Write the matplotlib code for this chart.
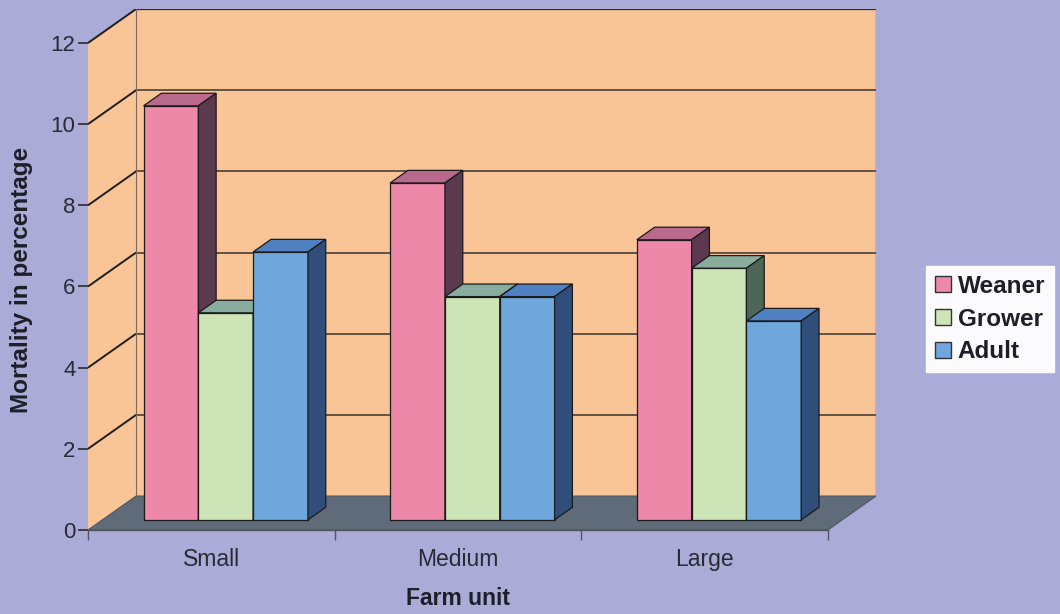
import matplotlib
matplotlib.use("Agg")
import matplotlib.pyplot as plt
from matplotlib.patches import Polygon, Patch

# Mortality (%) by farm unit and pig class
categories = ["Small", "Medium", "Large"]
series_names = ["Weaner", "Grower", "Adult"]
weaner = [10.2, 8.3, 6.9]
grower = [5.1, 5.5, 6.2]
adult = [6.6, 5.5, 4.9]
y_ticks = [0, 2, 4, 6, 8, 10, 12]

front_colors = ["#EE88A9", "#CCE4B6", "#6FA7DD"]
top_colors = ["#B96A8C", "#88AC9E", "#4F80C2"]
side_colors = ["#5B3A50", "#4D6657", "#2F4E7A"]

bg = "#ABABD8"
wall = "#F9C596"
floor_col = "#5F6B78"
grid_col = "#3A322C"

plt.rcParams["font.family"] = ["Liberation Sans", "DejaVu Sans"]

fig = plt.figure(figsize=(10.6, 6.14), dpi=100, facecolor=bg)
ax = fig.add_axes([88 / 1060, 84 / 614, 788 / 1060, 521 / 614])
ax.set_facecolor("none")

n_cat = len(categories)
ymax = max(y_ticks)
DX, DY = 0.195, 0.837          # full depth of the floor / walls (data units)
BF, BD = 0.30, 0.37            # bar front offset and bar depth (fraction of full depth)
bx0, by0 = BF * DX, BF * DY
bdx, bdy = BD * DX, BD * DY
n_ser = len(series_names)
w = 1.0 / (n_ser + 1.5)        # bar width with 150% gap
gap = 0.75 * w

ax.set_xlim(0, n_cat + DX)
ax.set_ylim(0, ymax + DY)

# side wall, back wall and floor
ax.add_patch(Polygon([(0, 0), (DX, DY), (DX, ymax + DY), (0, ymax)],
                     closed=True, facecolor=wall, edgecolor="none", zorder=0.5))
ax.add_patch(Polygon([(DX, DY), (n_cat + DX, DY), (n_cat + DX, ymax + DY), (DX, ymax + DY)],
                     closed=True, facecolor=wall, edgecolor="none", zorder=0.5))
ax.add_patch(Polygon([(0, 0), (n_cat, 0), (n_cat + DX, DY), (DX, DY)],
                     closed=True, facecolor=floor_col, edgecolor="#4E5862", lw=0.8, zorder=1))

# gridlines on walls
for t in y_ticks[1:]:
    ax.plot([0, DX], [t, t + DY], color="#1E1E1E", lw=1.4, zorder=2, solid_capstyle="butt")
for t in y_ticks[1:-1]:
    ax.plot([DX, n_cat + DX], [t + DY, t + DY], color=grid_col, lw=1.1, zorder=2)
ax.plot([DX, n_cat + DX], [ymax + DY, ymax + DY], color="#2A2A2A", lw=1.6, zorder=2)
ax.plot([n_cat + DX, n_cat + DX], [DY, ymax + DY], color="#5A5A5A", lw=1.0, zorder=2)
ax.plot([DX, DX], [DY, ymax + DY], color="#7A6A60", lw=0.8, zorder=2)

# 3-D style bars
values = [weaner, grower, adult]
for j, vals in enumerate(values):
    xs = [i + gap + j * w + bx0 for i in range(n_cat)]
    z = 10 + 3 * j
    ax.bar(xs, vals, width=w, bottom=by0, align="edge", color=front_colors[j],
           edgecolor="#1A1A1A", linewidth=0.9, zorder=z)
    for x, v in zip(xs, vals):
        top = by0 + v
        ax.add_patch(Polygon([(x, top), (x + w, top), (x + w + bdx, top + bdy), (x + bdx, top + bdy)],
                             closed=True, facecolor=top_colors[j], edgecolor="#1A1A1A",
                             lw=0.9, zorder=z + 1))
        ax.add_patch(Polygon([(x + w, by0), (x + w + bdx, by0 + bdy), (x + w + bdx, top + bdy), (x + w, top)],
                             closed=True, facecolor=side_colors[j], edgecolor="#1A1A1A",
                             lw=0.9, zorder=z + 1))

# axes, ticks and labels
for s in ["top", "right", "left"]:
    ax.spines[s].set_visible(False)
ax.spines["bottom"].set_bounds(0, n_cat)
ax.spines["bottom"].set_color("#50565E")
ax.spines["bottom"].set_linewidth(1.0)

ax.set_yticks(y_ticks)
ax.set_yticklabels([str(t) for t in y_ticks])
ax.tick_params(axis="y", length=7, width=1.2, color="#2A2A2A", pad=2,
               labelsize=16, labelcolor="#2A2A36")

ax.set_xticks(range(n_cat + 1))
ax.set_xticklabels([])
ax.set_xticks([i + 0.5 for i in range(n_cat)], minor=True)
ax.set_xticklabels(categories, minor=True)
ax.tick_params(axis="x", which="major", length=7, width=1.0, color="#50565E", direction="out")
ax.tick_params(axis="x", which="minor", length=0, pad=13, labelsize=16.5, labelcolor="#2A2A36")

ax.text(n_cat / 2, -0.131, "Farm unit", transform=ax.get_xaxis_transform(),
        ha="center", va="center", fontsize=16.5, fontweight="bold", color="#1E1E28")
ax.text(-0.084, ymax / 2 + 0.15, "Mortality in percentage", transform=ax.get_yaxis_transform(),
        ha="center", va="center", rotation=90, fontsize=17.5, fontweight="bold", color="#1E1E28")

handles = [Patch(facecolor=c, edgecolor="#333333", linewidth=1.0) for c in front_colors]
leg = fig.legend(handles, series_names, loc="center", bbox_to_anchor=(990 / 1060, 1 - 319 / 614),
                 frameon=True, fancybox=False, facecolor="#FBFBFD", edgecolor="#FBFBFD",
                 framealpha=1.0, handlelength=0.65, handleheight=0.65, handletextpad=0.3,
                 labelspacing=0.4, borderpad=0.35, borderaxespad=0,
                 prop={"size": 17.5, "weight": "bold"})
for t in leg.get_texts():
    t.set_color("#1E1E28")

fig.savefig("out.png", dpi=100, facecolor=bg)
